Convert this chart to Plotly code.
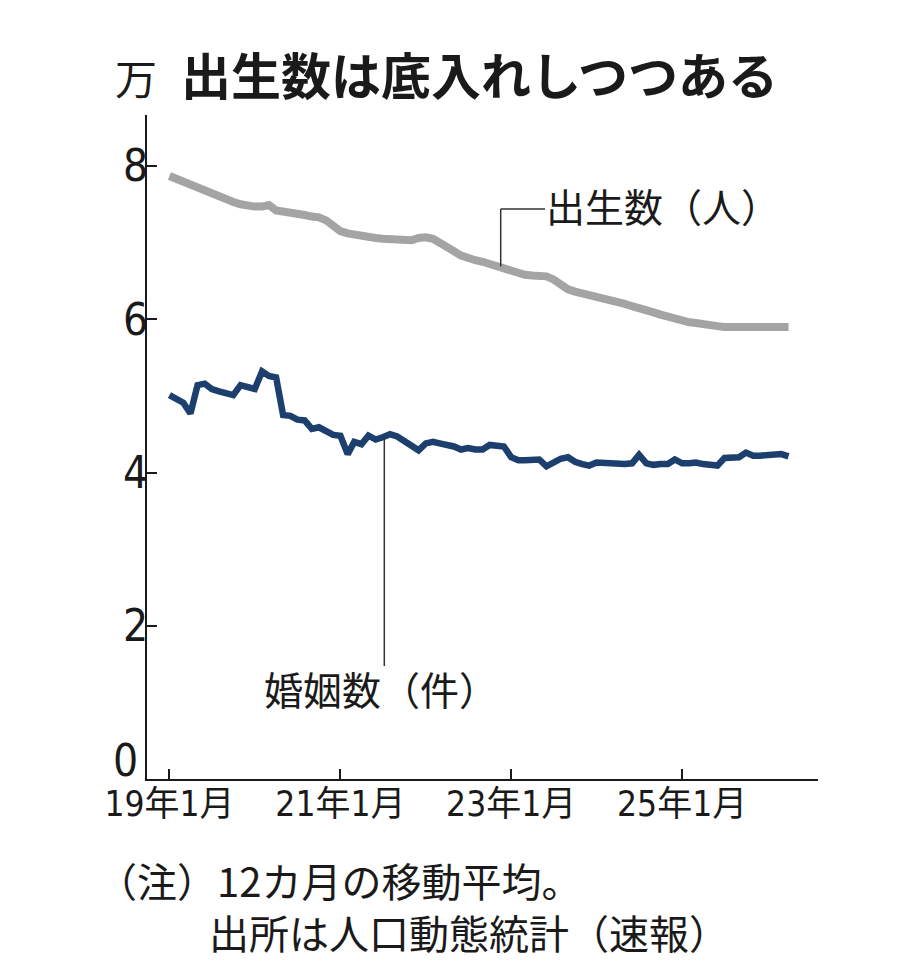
import plotly.graph_objects as go
import pandas as pd

# ---- data (万) ----
months = pd.date_range("2019-01-01", periods=88, freq="MS")

births = [7.87, 7.83, 7.78, 7.74, 7.71, 7.67, 7.63, 7.60, 7.57, 7.53,
          7.50, 7.48, 7.47, 7.47, 7.49, 7.42, 7.41, 7.40, 7.38, 7.36,
          7.34, 7.33, 7.29, 7.22, 7.15, 7.12, 7.10, 7.08, 7.07, 7.06,
          7.05, 7.04, 7.03, 7.03, 7.03, 7.06, 7.07, 7.05, 6.99, 6.94,
          6.89, 6.83, 6.79, 6.77, 6.75, 6.72, 6.69, 6.66, 6.64, 6.61,
          6.58, 6.57, 6.56, 6.56, 6.52, 6.45, 6.39, 6.36, 6.34, 6.32,
          6.30, 6.27, 6.25, 6.22, 6.20, 6.17, 6.15, 6.12, 6.09, 6.06,
          6.03, 6.01, 5.98, 5.96, 5.95, 5.93, 5.92, 5.91, 5.90, 5.90,
          5.89, 5.88, 5.88, 5.89, 5.89, 5.90, 5.90, 5.90]

marriages = [5.01, 4.96, 4.91, 4.77, 5.14, 5.16, 5.09, 5.06, 5.03, 5.01,
             5.14, 5.12, 5.09, 5.32, 5.26, 5.24, 4.75, 4.74, 4.69, 4.68,
             4.57, 4.59, 4.53, 4.49, 4.48, 4.24, 4.40, 4.37, 4.48, 4.43,
             4.46, 4.50, 4.47, 4.41, 4.35, 4.29, 4.38, 4.40, 4.38, 4.37,
             4.34, 4.30, 4.32, 4.30, 4.30, 4.36, 4.35, 4.34, 4.20, 4.16,
             4.16, 4.17, 4.17, 4.08, 4.14, 4.18, 4.20, 4.14, 4.11, 4.09,
             4.13, 4.12, 4.11, 4.11, 4.11, 4.12, 4.23, 4.12, 4.10, 4.11,
             4.11, 4.17, 4.12, 4.12, 4.13, 4.11, 4.10, 4.09, 4.19, 4.20,
             4.20, 4.26, 4.22, 4.22, 4.22, 4.23, 4.24, 4.21]

x_tick_vals = ["2019-01-01", "2021-01-01", "2023-01-01", "2025-01-01"]
x_tick_text = ["19年1月", "21年1月", "23年1月", "25年1月"]
y_tick_vals = [0, 2, 4, 6, 8]
y_tick_text = ["", "2", "4", "6", "8"]   # the "0" is drawn just above the axis line
zero_label = "0"

title_text = "出生数は底入れしつつある"
unit_text = "万"
births_label = "出生数（人）"
marriages_label = "婚姻数（件）"
note_line1 = "（注）12カ月の移動平均。"
note_line2 = "出所は人口動態統計（速報）"

# ---- layout geometry (screen pixels; page body has an 8px margin) ----
PAGE_OFF = 8
W, H = 918 - PAGE_OFF, 968 - PAGE_OFF
L, R, T, B = 147, 818, 115, 779
UNIT_PX = (B - 166) / 8.0          # pixels per 1万 on the y axis

def px(x):
    return (x - L) / (R - L)

def py(y):
    return (B - y) / (B - T)

CJK = "Noto Sans CJK JP, sans-serif"
NUM = "DejaVu Sans Condensed, Noto Sans CJK JP, sans-serif"
INK = "#1a1a1a"

fig = go.Figure()
fig.add_trace(go.Scatter(x=months, y=births, mode="lines",
                         line=dict(color="#a4a4a4", width=8),
                         hoverinfo="skip", showlegend=False))
fig.add_trace(go.Scatter(x=months, y=marriages, mode="lines",
                         line=dict(color="#1c3f6e", width=6.5),
                         hoverinfo="skip", showlegend=False))

fig.update_layout(
    width=W, height=H,
    margin=dict(l=L - PAGE_OFF, r=918 - R, t=T - PAGE_OFF, b=968 - B),
    paper_bgcolor="white", plot_bgcolor="white",
    showlegend=False,
    font=dict(family=CJK, color=INK),
)

fig.update_xaxes(
    type="date", range=["2018-09-27", "2026-08-05"],
    tickvals=x_tick_vals, ticktext=x_tick_text,
    ticks="inside", ticklen=10, tickwidth=1.5, tickcolor=INK,
    showline=True, linecolor=INK, linewidth=1.8,
    showgrid=False, zeroline=False, automargin=False,
    ticklabelstandoff=-7,
    tickfont=dict(family=NUM, size=35, color=INK),
)
fig.update_yaxes(
    range=[0, (B - T) / UNIT_PX], tickvals=y_tick_vals, ticktext=y_tick_text,
    ticks="inside", ticklen=10, tickwidth=1.5, tickcolor=INK,
    showline=True, linecolor=INK, linewidth=1.8,
    showgrid=False, zeroline=False, automargin=False,
    ticklabelstandoff=-12,
    tickfont=dict(family=NUM, size=44, color=INK),
)

ann = []
ann.append(dict(text="<b>" + title_text + "</b>", x=px(179), y=py(73),
                xanchor="left", yanchor="middle",
                font=dict(family=CJK, size=50, color=INK)))
ann.append(dict(text=unit_text, x=px(136), y=py(77),
                xanchor="center", yanchor="middle",
                font=dict(family=CJK, size=42, color=INK)))
ann.append(dict(text=zero_label, x=px(140), y=py(760),
                xanchor="right", yanchor="middle",
                font=dict(family=NUM, size=44, color=INK)))
ann.append(dict(text=births_label, x=px(544), y=py(205),
                xanchor="left", yanchor="middle",
                font=dict(family=CJK, size=39, color=INK)))
ann.append(dict(text=marriages_label, x=px(262), y=py(688),
                xanchor="left", yanchor="middle",
                font=dict(family=CJK, size=39, color=INK)))
ann.append(dict(text=note_line1, x=px(95), y=py(880),
                xanchor="left", yanchor="middle",
                font=dict(family=CJK, size=40, color=INK)))
ann.append(dict(text=note_line2, x=px(207), y=py(932),
                xanchor="left", yanchor="middle",
                font=dict(family=CJK, size=40, color=INK)))
for a in ann:
    a.update(xref="paper", yref="paper", showarrow=False)
fig.update_layout(annotations=ann)

# leader lines
lead = dict(color="#333333", width=1.5)
fig.add_shape(type="line", xref="paper", yref="y",
              x0=px(500.7), x1=px(500.7), y0=births[46], y1=(B - 209) / UNIT_PX, line=lead)
fig.add_shape(type="line", xref="paper", yref="paper",
              x0=px(500.7), x1=px(545), y0=py(209), y1=py(209), line=lead)
fig.add_shape(type="line", xref="paper", yref="y",
              x0=px(384.3), x1=px(384.3), y0=marriages[30], y1=(B - 666) / UNIT_PX, line=lead)

fig.write_html("out.html")
